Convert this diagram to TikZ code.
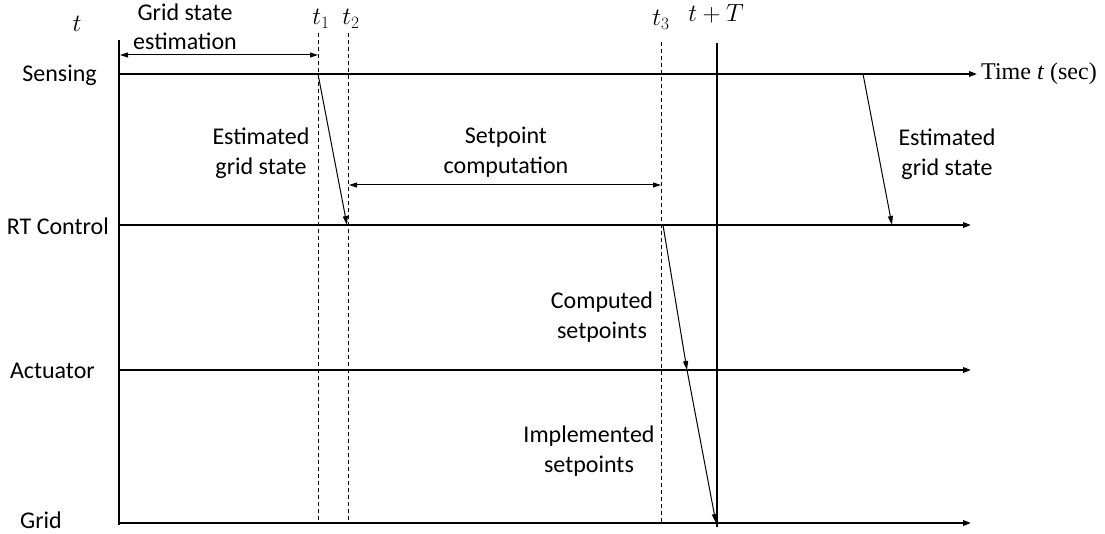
\documentclass[tikz,border=0pt]{standalone}
\usepackage{fontspec}
\setmainfont{Carlito}
\newfontfamily\timesf{Liberation Serif}
\usetikzlibrary{arrows.meta}
\begin{document}
\begin{tikzpicture}[x=1pt,y=-1pt,
  lane/.style={line width=1.7pt,-{Triangle[length=8pt,width=5.5pt]}},
  bar/.style={line width=2.6pt},
  marker/.style={line width=0.8pt,dash pattern=on 4pt off 3pt},
  msg/.style={line width=1pt,-{Triangle[length=9pt,width=5pt]}},
  span/.style={line width=1pt,{Triangle[length=8pt,width=5pt]}-{Triangle[length=8pt,width=5pt]}},
  lbl/.style={font=\fontsize{24}{29.5}\selectfont,align=center,inner sep=0pt},
  mlbl/.style={font=\fontsize{26}{26}\selectfont,inner sep=0pt}]
\useasboundingbox (0,0) rectangle (1105,534);
% lane labels
\node[lbl,anchor=east] (sens) at (97,75) {Sensing};
\node[lbl,anchor=east] (rtc) at (109,226) {RT Control};
\node[lbl,anchor=east] (act) at (95,371) {Actuator};
\node[lbl,anchor=east] (grid) at (62,520) {Grid};
% time label
\node[anchor=west,inner sep=0pt,font=\timesf\fontsize{24}{24}\selectfont] (time) at (981,74) {Time \textit{t} (sec)};
% coordinates
\coordinate (s0) at (119,74);
\coordinate (r0) at (119,225); \coordinate (r1) at (971,225);
\coordinate (a0) at (119,370); \coordinate (a1) at (971,370);
\coordinate (g0) at (119,523); \coordinate (g1) at (971,523);
\coordinate (lb0) at (119,40); \coordinate (lb1) at (119,525);
\coordinate (tb0) at (717,43); \coordinate (tb1) at (717,527);
% lanes
\draw[lane] (s0) -- ([xshift=-4pt]time.west);
\draw[lane] (r0) -- (r1);
\draw[lane] (a0) -- (a1);
\draw[lane] (g0) -- (g1);
\draw[bar] (lb0) -- (lb1);
\draw[bar] (tb0) -- (tb1);
% time markers
\node[mlbl] (tl) at (77,24) {$t$};
\node[mlbl] (t1) at (321,19) {$t_1$};
\node[mlbl] (t2) at (351,19) {$t_2$};
\node[mlbl] (t3) at (661,20) {$t_3$};
\node[mlbl] (tT) at (716,14) {$t+T$};
\coordinate (d1a) at (318,33); \coordinate (d1b) at (318,523);
\coordinate (d2a) at (348,33); \coordinate (d2b) at (348,523);
\coordinate (d3a) at (661,42); \coordinate (d3b) at (661,523);
\draw[marker] (d1a) -- (d1b);
\draw[marker] (d2a) -- (d2b);
\draw[marker] (d3a) -- (d3b);
% spans
\coordinate (e0) at (120,55); \coordinate (e1) at (318,55);
\draw[span] (e0) -- (e1);
\node[lbl] (gse) at (185,27) {Grid state\\estimation};
\coordinate (c0) at (349,185); \coordinate (c1) at (661,185);
\draw[span] (c0) -- (c1);
\node[lbl] (spc) at (506,152) {Setpoint\\computation};
% messages
\coordinate (m1a) at (318,74); \coordinate (m1b) at (347,225);
\draw[msg] (m1a) -- (m1b);
\node[lbl] (egs1) at (261,153) {Estimated\\grid state};
\coordinate (m2a) at (863,74); \coordinate (m2b) at (892,225);
\draw[msg] (m2a) -- (m2b);
\node[lbl] (egs2) at (947,154) {Estimated\\grid state};
\coordinate (m3a) at (663,225); \coordinate (m3b) at (687,370);
\draw[msg] (m3a) -- (m3b);
\node[lbl] (cs) at (602,317) {Computed\\setpoints};
\coordinate (m4b) at (716,523);
\draw[msg] (m3b) -- (m4b);
\node[lbl] (is) at (589,451) {Implemented\\setpoints};
\end{tikzpicture}
\end{document}
